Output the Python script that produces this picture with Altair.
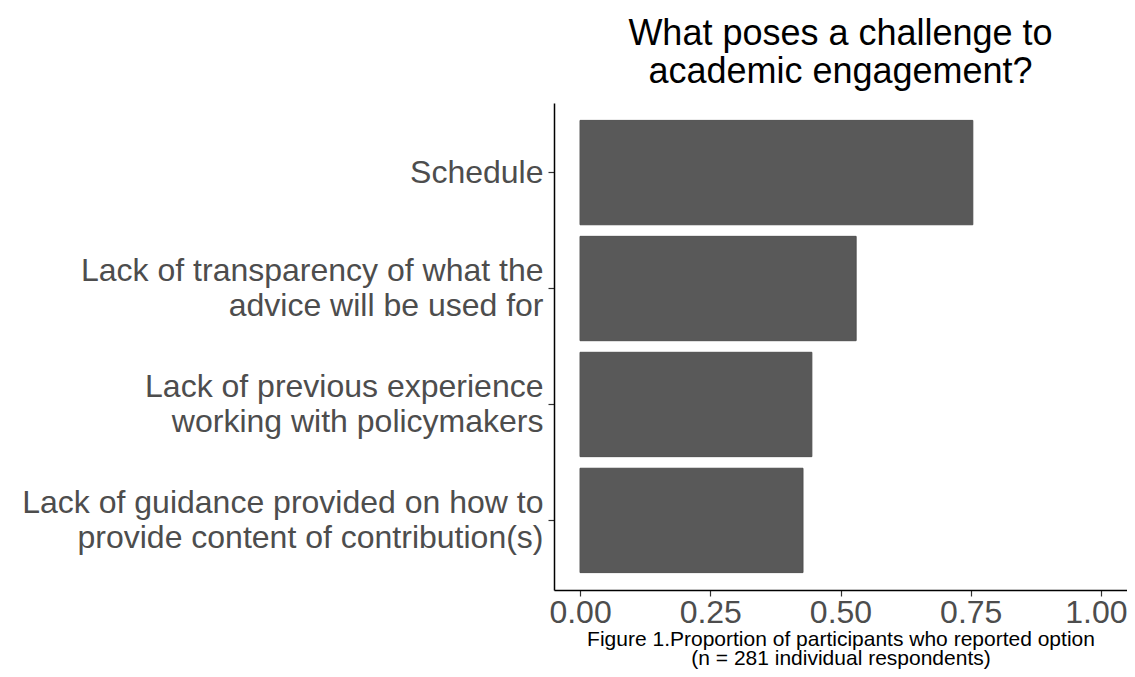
import altair as alt
import pandas as pd

NBSP = "\u00a0"
categories = [
    "Schedule",
    "Lack of transparency of what the" + NBSP + "|advice will be used for",
    "Lack of previous experience" + NBSP + "|working with policymakers",
    "Lack of guidance provided on how to" + NBSP + "|provide content of contribution(s)",
]
proportions = [0.754, 0.530, 0.445, 0.428]
x_ticks = [0.0, 0.25, 0.5, 0.75, 1.0]

df = pd.DataFrame({"option": categories, "prop": proportions})

FONT = "Liberation Sans"

chart = (
    alt.Chart(df)
    .mark_bar(color="#595959", stroke="#4f4f4f", strokeWidth=1)
    .encode(
        x=alt.X(
            "prop:Q",
            scale=alt.Scale(domain=[-0.05, 1.05], nice=False, zero=False),
            axis=alt.Axis(
                values=x_ticks,
                format=".2f",
                title=[
                    "Figure 1.Proportion of participants who reported option",
                    "(n = 281 individual respondents)",
                ],
                titleFontSize=21,
                titleFont=FONT,
                titleFontWeight="normal",
                titleColor="#000000",
                titleLineHeight=19,
                titlePadding=0,
                labelFontSize=32,
                labelFont=FONT,
                labelColor="#4d4d4d",
                labelPadding=1,
                labelOffset={
                    "condition": {"test": "datum.value >= 1", "value": -5},
                    "value": 0,
                },
                tickSize=6,
                tickColor="#333333",
                tickWidth=1.2,
                domainColor="#000000",
                domainWidth=1.5,
                grid=False,
                labelFlush=False,
                labelOverlap=False,
            ),
        ),
        y=alt.Y(
            "option:N",
            sort=categories,
            scale=alt.Scale(paddingInner=0.1, paddingOuter=0.15),
            axis=alt.Axis(
                title=None,
                labelExpr="split(datum.label, '|')",
                labelFontSize=32,
                labelFont=FONT,
                labelColor="#4d4d4d",
                labelLineHeight=35,
                labelLimit=700,
                labelPadding=5,
                labelOffset={
                    "condition": {"test": "indexof(datum.value, '|') >= 0", "value": -17.5},
                    "value": 0,
                },
                tickSize=6,
                tickColor="#333333",
                tickWidth=1.2,
                domainColor="#000000",
                domainWidth=1.5,
                grid=False,
            ),
        ),
    )
    .properties(
        width=573,
        height=487,
        background="#ffffff",
        title=alt.TitleParams(
            text=["What poses a challenge to", "academic engagement?"],
            fontSize=36,
            font=FONT,
            fontWeight="normal",
            color="#000000",
            lineHeight=38,
            anchor="middle",
            offset=12,
        ),
        autosize=alt.AutoSizeParams(type="none"),
        padding={"left": 546, "top": 95, "right": 0, "bottom": 79},
    )
    .configure_view(stroke="transparent", strokeWidth=0)
)

chart.save("out.html", embed_options={"renderer": "svg", "actions": False})
